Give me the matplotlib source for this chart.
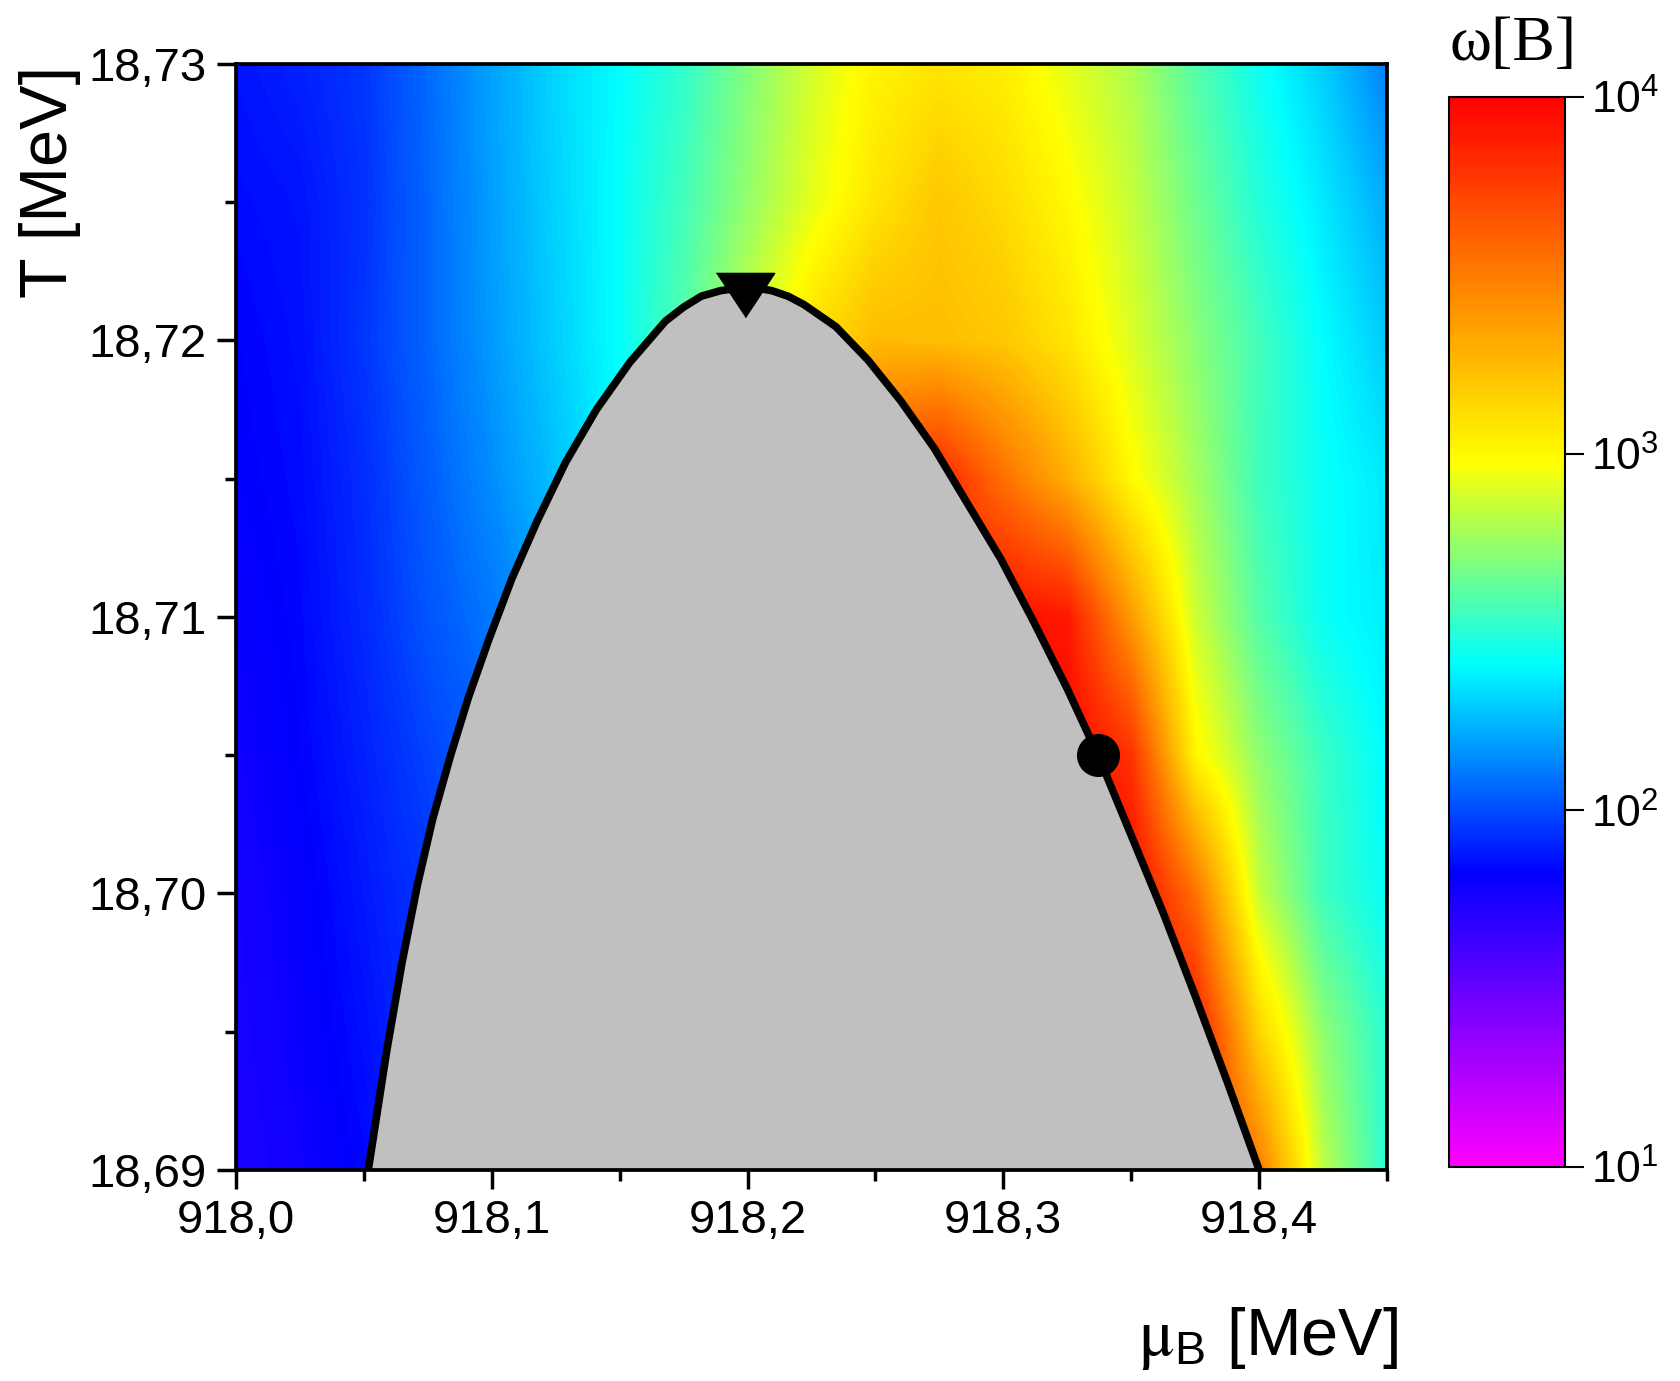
import numpy as np
import matplotlib
matplotlib.use("Agg")
import matplotlib.pyplot as plt
from matplotlib.colors import LinearSegmentedColormap, LogNorm
from matplotlib.cm import ScalarMappable
from matplotlib.ticker import MultipleLocator, FuncFormatter, NullLocator

plt.rcParams["font.family"] = ["Liberation Sans", "DejaVu Sans"]
plt.rcParams["mathtext.fontset"] = "stix"

# ── grid of log10(omega[B]) ─────────────────────────────────────────────────
mu_nodes = [918.000, 918.025, 918.050, 918.075, 918.100, 918.125, 918.150,
            918.175, 918.200, 918.225, 918.250, 918.275, 918.300, 918.325,
            918.350, 918.375, 918.400, 918.425, 918.450]
T_nodes = [18.690, 18.695, 18.700, 18.705, 18.710, 18.715, 18.720, 18.725, 18.730]

logw_T18690 = [1.74, 1.78, 1.84, 1.92, 2.00, 2.10, 2.30, 2.60, 2.90, 3.20, 3.50, 3.70, 3.85, 3.90, 3.90, 3.85, 3.50, 2.83, 2.50]
logw_T18695 = [1.75, 1.80, 1.86, 1.94, 2.00, 2.10, 2.30, 2.60, 2.90, 3.20, 3.50, 3.70, 3.85, 3.92, 3.95, 3.90, 3.15, 2.73, 2.50]
logw_T18700 = [1.76, 1.81, 1.88, 1.95, 2.02, 2.12, 2.30, 2.60, 2.90, 3.20, 3.50, 3.70, 3.85, 3.90, 3.98, 3.55, 2.85, 2.55, 2.42]
logw_T18705 = [1.78, 1.83, 1.90, 1.98, 2.05, 2.15, 2.30, 2.60, 2.90, 3.20, 3.50, 3.75, 3.90, 3.98, 3.80, 3.02, 2.73, 2.54, 2.40]
logw_T18710 = [1.80, 1.84, 1.92, 2.02, 2.10, 2.20, 2.32, 2.60, 2.90, 3.20, 3.50, 3.75, 3.95, 3.90, 3.38, 2.87, 2.60, 2.43, 2.37]
logw_T18715 = [1.82, 1.85, 1.93, 2.04, 2.15, 2.27, 2.40, 2.60, 2.90, 3.30, 3.70, 3.85, 3.55, 3.30, 3.00, 2.78, 2.55, 2.43, 2.36]
logw_T18720 = [1.83, 1.86, 1.95, 2.06, 2.18, 2.30, 2.42, 2.60, 2.85, 3.10, 3.25, 3.24, 3.20, 3.08, 2.90, 2.72, 2.56, 2.41, 2.29]
logw_T18725 = [1.85, 1.87, 1.94, 2.06, 2.19, 2.31, 2.42, 2.56, 2.74, 2.92, 3.08, 3.20, 3.12, 3.00, 2.85, 2.66, 2.49, 2.36, 2.22]
logw_T18730 = [1.87, 1.90, 1.95, 2.07, 2.20, 2.32, 2.41, 2.52, 2.70, 2.88, 3.02, 3.08, 3.04, 2.92, 2.80, 2.60, 2.44, 2.30, 2.12]

# boundary of the grey region (left foot -> apex -> right foot)
curve_mu = [918.0517, 918.0589, 918.0649, 918.0709, 918.0769, 918.0839, 918.0909,
            918.0989, 918.1079, 918.1179, 918.1289, 918.1409, 918.1539, 918.1679,
            918.1749, 918.1819, 918.1894, 918.1969, 918.2032, 918.2095, 918.2158,
            918.2220, 918.2345, 918.2470, 918.2600, 918.2730, 918.2860, 918.2990,
            918.3120, 918.3250, 918.3375, 918.3500, 918.3625, 918.3750, 918.3875,
            918.4000]
curve_T = [18.6900, 18.6943, 18.6975, 18.7003, 18.7027, 18.7050, 18.7071,
           18.7092, 18.7114, 18.7135, 18.7156, 18.7175, 18.7192, 18.7207,
           18.7212, 18.7216, 18.7218, 18.7219, 18.7219, 18.7218, 18.7216,
           18.7213, 18.7205, 18.7193, 18.7178, 18.7161, 18.7141, 18.7121,
           18.7098, 18.7074, 18.7049, 18.7021, 18.6993, 18.6963, 18.6932,
           18.6900]

apex_mu, apex_T = 918.199, 18.72165
point_mu, point_T = 918.3372, 18.7050

cbar_ticks = [1e1, 1e2, 1e3, 1e4]
cbar_labels = [r"$\mathregular{10^1}$", r"$\mathregular{10^2}$",
               r"$\mathregular{10^3}$", r"$\mathregular{10^4}$"]

logw = np.array([logw_T18690, logw_T18695, logw_T18700, logw_T18705, logw_T18710,
                 logw_T18715, logw_T18720, logw_T18725, logw_T18730])

cmap = LinearSegmentedColormap.from_list(
    "omega", [(0.0, "#FF00FF"), (0.275, "#0000FF"), (0.47, "#00FFFF"),
              (0.66, "#FFFF00"), (1.0, "#FF0000")])

fig = plt.figure(figsize=(16.8, 13.81), dpi=100)
ax = fig.add_axes([0.1405, 0.1528, 0.6851, 0.8009])
cax = fig.add_axes([0.8625, 0.1550, 0.069, 0.7748])

dmu = mu_nodes[1] - mu_nodes[0]
dT = T_nodes[1] - T_nodes[0]
ax.imshow(logw, origin="lower", aspect="auto", cmap=cmap, vmin=1, vmax=4,
          interpolation="bilinear", interpolation_stage="data",
          extent=[mu_nodes[0] - dmu / 2, mu_nodes[-1] + dmu / 2,
                  T_nodes[0] - dT / 2, T_nodes[-1] + dT / 2], zorder=1)

ax.fill(curve_mu, curve_T, color="#C0C0C0", lw=0, zorder=2)
ax.plot(curve_mu, curve_T, color="black", lw=5.5, zorder=3,
        solid_joinstyle="round")

tri = [(-0.66, 0.5), (0.66, 0.5), (0.0, -0.5)]
ax.plot(apex_mu, apex_T, marker=tri, ms=42, color="black", ls="none", zorder=4)
ax.plot(point_mu, point_T, marker="o", ms=30, color="black", ls="none", zorder=4)

ax.set_xlim(918.0, 918.45)
ax.set_ylim(18.69, 18.73)

comma = lambda fmt: FuncFormatter(lambda v, p: format(v, fmt).replace(".", ","))
ax.xaxis.set_major_locator(MultipleLocator(0.1))
ax.xaxis.set_minor_locator(MultipleLocator(0.05))
ax.yaxis.set_major_locator(MultipleLocator(0.01))
ax.yaxis.set_minor_locator(MultipleLocator(0.005))
ax.xaxis.set_major_formatter(comma(".1f"))
ax.yaxis.set_major_formatter(comma(".2f"))
ax.tick_params(which="major", direction="out", length=14, width=2.5,
               labelsize=34, pad=7)
ax.tick_params(which="minor", direction="out", length=8, width=2.5)
for sp in ax.spines.values():
    sp.set_linewidth(2.7)

fig.text(50 / 1680, 1 - 66 / 1381, "T [MeV]", rotation=90, ha="center",
         va="top", fontsize=48)
fig.text(1398 / 1680, 1 - 1338 / 1381, r"$\mathrm{\mu}_{\mathregular{B}}$ [MeV]",
         ha="right", va="center", fontsize=48)

# colour bar
cb = fig.colorbar(ScalarMappable(norm=LogNorm(1e1, 1e4), cmap=cmap), cax=cax)
cb.set_ticks(cbar_ticks)
cb.set_ticklabels(cbar_labels)
cax.yaxis.set_minor_locator(NullLocator())
cax.tick_params(direction="out", length=14, width=1.5, labelsize=32, pad=5)
cb.outline.set_linewidth(1.5)
fig.text(1513 / 1680, 1 - 45 / 1381, "ω[B]", family=["Liberation Serif", "DejaVu Serif"],
         ha="center", va="center", fontsize=46)

fig.savefig("out.png", dpi=100)
